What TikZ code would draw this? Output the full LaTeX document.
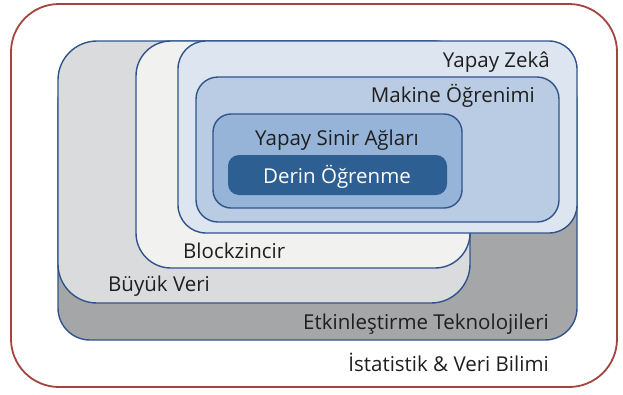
\documentclass[tikz,border=0pt]{standalone}
\usepackage{fontspec}
\setmainfont{Open Sans}
\definecolor{kenar}{HTML}{30548A}
\definecolor{kirmizi}{HTML}{A4453D}
\definecolor{etkin}{HTML}{A4A6A7}
\definecolor{buyuk}{HTML}{DADBDC}
\definecolor{block}{HTML}{F1F1EF}
\definecolor{yz}{HTML}{DDE6F0}
\definecolor{mo}{HTML}{B9CCE4}
\definecolor{ysa}{HTML}{96B3D8}
\definecolor{derin}{HTML}{2D5F92}

\begin{document}
\begin{tikzpicture}[x=1pt, y=-1pt,
    kutu/.style={draw=kenar, line width=1.4pt},
    etiket/.style={font=\fontsize{20.5}{22}\selectfont, text=black!88, inner sep=0pt}]
    \useasboundingbox (0,0) rectangle (623,394);

    % dis cerceve
    \draw[kirmizi, line width=1.8pt, rounded corners=48pt] (11,4) rectangle (617,387);

    % kutular
    \draw[kutu, fill=etkin, rounded corners=32pt] (58,70) rectangle (577,340);
    \draw[kutu, fill=buyuk, rounded corners=39pt] (58,41) rectangle (470,303);
    \draw[kutu, fill=block, rounded corners=35pt] (136,41) rectangle (470,268);
    \draw[kutu, fill=yz, rounded corners=28pt] (178,41) rectangle (577,233);
    \draw[kutu, fill=mo, rounded corners=22pt] (196,77) rectangle (559,222);
    \draw[kutu, fill=ysa, rounded corners=18pt] (213,114) rectangle (462,208);
    \fill[derin, rounded corners=11pt] (228,155) rectangle (447,195);

    % yazilar
    \node[etiket, anchor=base east] (tyz) at (550,67) {Yapay Zekâ};
    \node[etiket, anchor=base east] (tmo) at (535,102) {Makine Öğrenimi};
    \node[etiket, anchor=base] (tysa) at (337,145) {Yapay Sinir Ağları};
    \node[etiket, anchor=base, text=white] (tdo) at (337,183) {Derin Öğrenme};
    \node[etiket, anchor=base west] (tbz) at (183,258) {Blockzincir};
    \node[etiket, anchor=base west] (tbv) at (108,291) {Büyük Veri};
    \node[etiket, anchor=base east] (tetk) at (549,329) {Etkinleştirme Teknolojileri};
    \node[etiket, anchor=base east] (tist) at (549,371) {İstatistik \& Veri Bilimi};
\end{tikzpicture}
\end{document}
